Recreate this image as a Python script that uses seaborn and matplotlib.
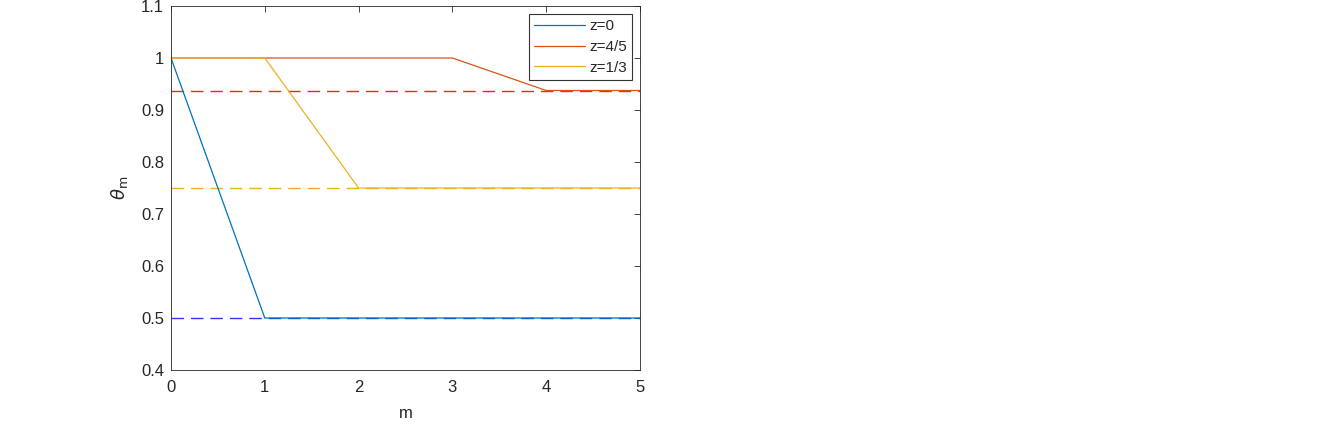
import numpy as np
import pandas as pd
import matplotlib
matplotlib.use('Agg')
import matplotlib.pyplot as plt
import seaborn as sns

m_vals = [0, 1, 2, 3, 4, 5]
theta_z0 = [1.0, 0.5, 0.5, 0.5, 0.5, 0.5]
theta_z45 = [1.0, 1.0, 1.0, 1.0, 0.9375, 0.9375]
theta_z13 = [1.0, 1.0, 0.75, 0.75, 0.75, 0.75]
series_names = ['z=0', 'z=4/5', 'z=1/3']
limits = [0.5, 0.9375, 0.75]
limit_colors = ['#3333FF', '#FF2020', '#EDB120']
line_colors = ['#0072BD', '#D95319', '#EDB120']

sns.set_style('white')
plt.rcParams['font.family'] = ['Liberation Sans', 'DejaVu Sans']
plt.rcParams['mathtext.fontset'] = 'dejavusans'

df = pd.DataFrame({
    'm': m_vals * 3,
    'theta': theta_z0 + theta_z45 + theta_z13,
    'z': [n for n in series_names for _ in m_vals],
})

fig = plt.figure(figsize=(13.18, 4.34), dpi=100)
ax = fig.add_axes([171/1318, 64/434, 469/1318, 364/434])

# asymptotic limits (dashed)
for lim, c in zip(limits, limit_colors):
    ax.axhline(lim, color=c, linestyle=(0, (9, 5)), linewidth=1.0)

sns.lineplot(data=df, x='m', y='theta', hue='z', palette=line_colors,
             linewidth=0.9, ax=ax)

ax.set_xlim(0, 5)
ax.set_ylim(0.4, 1.1)
ax.set_xticks(range(0, 6))
ax.set_yticks(np.round(np.arange(0.4, 1.11, 0.1), 1))
ax.set_yticklabels(['0.4', '0.5', '0.6', '0.7', '0.8', '0.9', '1', '1.1'])
ax.tick_params(direction='in', length=4, width=0.6, top=True, right=True,
               labelsize=12, colors='#262626', labelcolor='#262626')
ax.tick_params(axis='x', pad=7)
ax.tick_params(axis='y', pad=5)
for s in ax.spines.values():
    s.set_linewidth(0.6)
    s.set_color('#262626')
ax.set_xlabel('m', fontsize=12, color='#262626', labelpad=8)
ax.set_ylabel(r'$\theta_{\mathrm{m}}$', fontsize=13, color='#262626', labelpad=8)

leg = ax.legend(loc='upper right', fontsize=11, frameon=True, fancybox=False,
                borderaxespad=0.5, handlelength=3.3, handletextpad=0.3,
                labelspacing=0.45, borderpad=0.35)
leg.get_frame().set_edgecolor('black')
leg.get_frame().set_linewidth(0.8)
leg.set_title(None)

fig.savefig('out.png', dpi=100)
